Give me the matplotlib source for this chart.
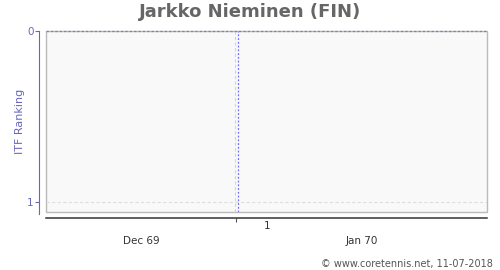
import matplotlib
matplotlib.use('agg')
import matplotlib.pyplot as plt
from matplotlib.patches import Rectangle

# Data (x in days relative to 1 Jan 1970)
title = 'Jarkko Nieminen (FIN)'
rank_ticks = [0, 1]
week_ticks = [0]
week_labels = ['1']
week_label_pos = [4.4]
month_labels = ['Dec 69', 'Jan 70']
month_pos = [-13.3, 17.7]
marker_day = 0.35
x_range = (-26.7, 35.4)
y_range = (1.058, 0)

fig = plt.figure(figsize=(5, 2.7), dpi=100)
ax = fig.add_axes([0.092, 0.2148, 0.882, 0.6704])
ax.set_facecolor('#f9f9f9')
ax.set_xlim(*x_range)
ax.set_ylim(*y_range)

# plot area border
for s in ['top', 'right']:
    ax.spines[s].set_visible(False)
ax.add_patch(Rectangle((0, 0), 1, 1, transform=ax.transAxes, fill=False,
                       edgecolor='#bbbbbb', linewidth=1, zorder=1, clip_on=False))
ax.axhline(0, color='#8080bb', linestyle=(0, (2, 1.5)), linewidth=0.9, zorder=3, clip_on=False)

# grid
ax.axhline(1, color='#dddddd', linestyle=(0, (3, 2)), linewidth=0.8, zorder=2)
for d in week_ticks:
    ax.axvline(d - 0.05, color='#d4d4d4', linestyle=(0, (3, 2)), linewidth=0.8, zorder=2)
ax.axvline(marker_day, color='#7070ff', linestyle=(0, (1.5, 1.5)), linewidth=0.9, zorder=3)

# left axis
ax.spines['left'].set_position(('outward', 5))
ax.spines['left'].set_color('#6666bb')
ax.spines['left'].set_bounds(y_range[0] + 0.012, 0)
ax.set_yticks(rank_ticks)
ax.set_yticklabels([str(r) for r in rank_ticks])
ax.tick_params(axis='y', colors='#6666bb', labelsize=7.5, length=3, pad=1)
ax.set_ylabel('ITF Ranking', color='#6666bb', fontsize=8, labelpad=1)

# bottom axis
ax.spines['bottom'].set_position(('outward', 4))
ax.spines['bottom'].set_color('#333333')
ax.spines['bottom'].set_linewidth(1.1)
ax.set_xticks(week_ticks)
ax.set_xticklabels([''])
ax.tick_params(axis='x', colors='#555555', length=3)
for p, l in zip(week_label_pos, week_labels):
    ax.text(p, 1.139, l, ha='center', va='center', fontsize=7.5, color='#333333')
for p, l in zip(month_pos, month_labels):
    ax.text(p, 1.227, l, ha='center', va='center', fontsize=7.5, color='#333333')

fig.text(0.5, 0.955, title, ha='center', va='center', fontsize=13,
         fontweight='bold', color='#666666')
fig.text(0.986, 0.022, '\u00a9 www.coretennis.net, 11-07-2018', ha='right',
         va='center', fontsize=7, color='#555555')

fig.savefig('out.png', dpi=100)
